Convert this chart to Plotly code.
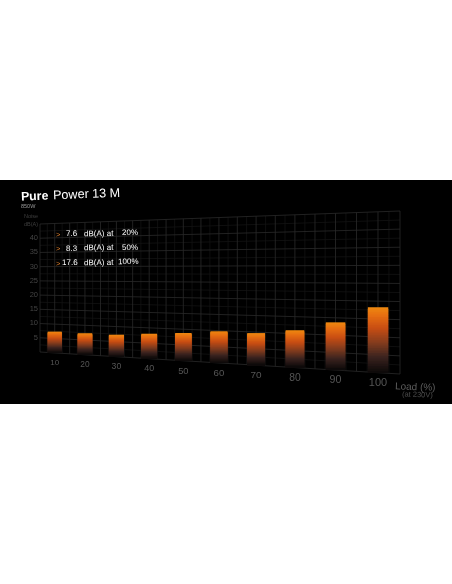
import numpy as np
import plotly.graph_objects as go

# values
load = [10, 20, 30, 40, 50, 60, 70, 80, 90, 100]
noise = [7.4, 7.3, 7.3, 8.1, 8.8, 9.8, 9.7, 11.0, 13.7, 18.3]
noise_ticks = [5, 10, 15, 20, 25, 30, 35, 40]
summary_values = ["7.6", "8.3", "17.6"]
summary_loads = ["20%", "50%", "100%"]

W, H = 452, 584
LEFT, RIGHT = 40.0, 400.0
LOAD_MIN, LOAD_MAX, NOISE_MAX = 5.0, 105.0, 45.0
BAR_WIDTH = 4.7  # in load units
K = 1.237  # perspective strength


def frac(l):
    t = (np.asarray(l, dtype=float) - LOAD_MIN) / (LOAD_MAX - LOAD_MIN)
    return t / (t + K * (1 - t))


def px(l):
    return LEFT + (RIGHT - LEFT) * frac(l)


def py(l, n):
    f = frac(l)
    bottom = 352 + 22 * f
    top = 224 - 13 * f
    return bottom + (top - bottom) * np.asarray(n, dtype=float) / NOISE_MAX


def grid_trace(xs_list, ys_list, color, width):
    xs, ys = [], []
    for a, b in zip(xs_list, ys_list):
        xs += list(a) + [None]
        ys += list(b) + [None]
    return go.Scatter(x=xs, y=ys, mode="lines", hoverinfo="skip",
                      line=dict(color=color, width=width))


fig = go.Figure()

# grid, minor then major
minor_h = np.arange(2.5, NOISE_MAX, 5)
major_h = np.arange(0, NOISE_MAX + 1, 5)
minor_v = np.arange(LOAD_MIN + 2.5, LOAD_MAX, 5)
major_v = np.arange(LOAD_MIN, LOAD_MAX + 1, 5)
for h_vals, v_vals, color, width in [(minor_h, minor_v, "#151515", 0.7), (major_h, major_v, "#2a2a2a", 0.8)]:
    xs = [[px(LOAD_MIN), px(LOAD_MAX)] for _ in h_vals] + [[px(v), px(v)] for v in v_vals]
    ys = [[py(LOAD_MIN, h), py(LOAD_MAX, h)] for h in h_vals] + [[py(v, 0), py(v, NOISE_MAX)] for v in v_vals]
    fig.add_trace(grid_trace(xs, ys, color, width))

# bars on an overlaid axis pair so they sit above the grid.
# each slice overlaps the next by a bit and the next one paints over it, so no seams
stops = [0.0, 0.12, 0.32, 0.55, 0.76, 1.0]
stop_rgb = np.array([[238, 138, 16], [232, 112, 18], [200, 78, 20], [130, 60, 30], [60, 36, 32], [12, 9, 9]])
n_slices = 40
bx, bw, bbase, bh, bcolor = [], [], [], [], []
for l, n in zip(load, noise):
    x0, x1 = px(l - BAR_WIDTH / 2), px(l + BAR_WIDTH / 2)
    y_top, y_bot = float(py(l, n)), float(py(l, 0))
    step = (y_bot - y_top) / n_slices
    for i in range(n_slices):
        g = (i + 0.5) / n_slices
        rgb = [int(np.interp(g, stops, stop_rgb[:, c])) for c in range(3)]
        base = y_top + i * step
        bx.append((x0 + x1) / 2)
        bw.append(x1 - x0)
        bbase.append(base)
        bh.append(min(step + 1.5, y_bot - base))
        bcolor.append(f"rgb({rgb[0]},{rgb[1]},{rgb[2]})")
fig.add_trace(go.Bar(x=bx, y=bh, base=bbase, width=bw, marker=dict(color=bcolor, line=dict(width=0)),
                     hoverinfo="skip", xaxis="x2", yaxis="y2"))

# tick labels
fig.add_trace(go.Scatter(x=[38] * len(noise_ticks), y=[py(LOAD_MIN, t) for t in noise_ticks],
                         mode="text", text=[str(t) for t in noise_ticks], textposition="middle left",
                         textfont=dict(family="Liberation Sans", size=7.5, color="#444444"), hoverinfo="skip"))
load_sizes = [8 + i * 0.33 for i in range(len(load))]
fig.add_trace(go.Scatter(x=[px(l) for l in load], y=[py(l, 0) + 10.5 for l in load],
                         mode="text", text=[str(l) for l in load], textposition="middle center",
                         textfont=dict(family="Liberation Sans", size=load_sizes, color="#555555"), hoverinfo="skip"))


def note(x, y, text, size, color="#ffffff", anchor="left", angle=0):
    fig.add_annotation(x=x, y=y, xref="x", yref="y", text=text, showarrow=False, xanchor=anchor, yanchor="middle",
                       textangle=angle, borderpad=0, borderwidth=0,
                       font=dict(family="Liberation Sans", size=size, color=color))


# title
note(21, 195.5, "<b>Pure</b>", 12.3, angle=-2)
note(53, 193.7, "Power 13 M", 12.6, angle=-2)
note(21, 206, "850W", 5.5, "#9a9a9a")
note(37.5, 216, "Noise", 5.5, "#3f3f3f", "right")
note(37.5, 223.7, "dB(A)", 5.5, "#3f3f3f", "right")

# summary block
for i, (val, pct) in enumerate(zip(summary_values, summary_loads)):
    y = 233.7 + i * 14.4
    note(58, y + 0.8, "&gt;", 7.5, "#e0802c", "center")
    note(78.5, y, val, 8, anchor="right", angle=-0.8)
    note(84, y - 0.2, "dB(A) at", 8, angle=-0.8)
    note(138, y - 0.8, pct, 8, anchor="right", angle=-0.8)

note(415, 386.5, "Load (%)", 10, "#5c5c5c", "center", angle=2)
note(417, 394.5, "(at 230V)", 7.5, "#4d4d4d", "center", angle=2)

axis_x = dict(range=[0, W], visible=False, fixedrange=True)
axis_y = dict(range=[H, 0], visible=False, fixedrange=True)
fig.update_layout(
    width=W, height=H,
    margin=dict(l=0, r=0, t=0, b=0),
    paper_bgcolor="#ffffff", plot_bgcolor="#ffffff",
    barmode="overlay", showlegend=False,
    xaxis=axis_x,
    yaxis=axis_y,
    xaxis2=dict(axis_x, overlaying="x"),
    yaxis2=dict(axis_y, overlaying="y"),
    shapes=[dict(type="rect", xref="paper", yref="y", x0=0, x1=1, y0=180, y1=404,
                 fillcolor="#000000", line=dict(width=0), layer="below")],
)

fig.write_html("out.html", config=dict(displayModeBar=False),
               post_script="document.body.style.margin='0';document.body.style.overflow='hidden';"
                           "document.querySelectorAll('svg').forEach(s=>s.style.willChange='transform');")
